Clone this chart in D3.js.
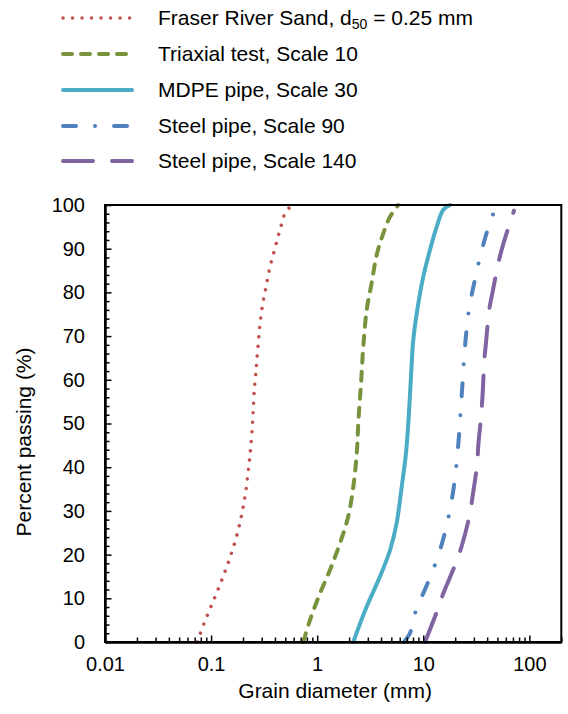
<!DOCTYPE html>
<html>
<head>
<meta charset="utf-8">
<script src="https://cdn.jsdelivr.net/npm/d3@7"></script>
<style>
  body { margin: 0; background: #fff; }
  svg text { font-family: Arial, "Liberation Sans", sans-serif; fill: #000; }
</style>
</head>
<body>
<div id="app"></div>
<script>
// grain size curves, [diameter mm, percent passing]
const seriesNames = [
  "Fraser River Sand",
  "Triaxial test, Scale 10",
  "MDPE pipe, Scale 30",
  "Steel pipe, Scale 90",
  "Steel pipe, Scale 140"
];

const fraser = [
  [0.074, 0], [0.086, 4.3], [0.1005, 8.3], [0.118, 12.4], [0.137, 16.5],
  [0.157, 20.6], [0.177, 24.9], [0.194, 29.1], [0.209, 33.4], [0.226, 40],
  [0.236, 44.4], [0.247, 51], [0.255, 57.5], [0.265, 61.9], [0.269, 64.1],
  [0.279, 68.5], [0.289, 72.8], [0.306, 77.2], [0.331, 81.5], [0.359, 85.8],
  [0.400, 90.1], [0.446, 94.3], [0.505, 98.4], [0.587, 100]
];

const triaxial = [
  [0.74, 0], [0.855, 5], [1.062, 11.1], [1.32, 16.5], [1.64, 22.6],
  [1.96, 28.7], [2.19, 35.5], [2.36, 43.2], [2.45, 50.8], [2.59, 59.2],
  [2.72, 67.6], [2.93, 76], [3.26, 82.1], [3.64, 88.6], [4.20, 93.5],
  [4.86, 97.3], [5.81, 100]
];

const mdpe = [
  [2.19, 0], [2.93, 8.1], [3.91, 15], [4.86, 21], [5.61, 27.2],
  [6.26, 35.5], [6.87, 43.2], [7.26, 50.8], [7.66, 60.7], [8.05, 69.1],
  [8.78, 76], [10.0, 83.6], [11.56, 89.7], [13.37, 95], [15.44, 98.9],
  [17.85, 100]
];

const steel90 = [
  [6.58, 0], [7.49, 2], [8.53, 7.2], [10.67, 12.7], [13.09, 18.1],
  [15.56, 23.9], [17.58, 29.4], [19.38, 35.4], [20.64, 41.1], [21.7, 47.2],
  [22.5, 52.9], [23.4, 59], [24.2, 64.7], [25.4, 70.6], [27.1, 76.5],
  [30.3, 82.3], [34.2, 88], [39.8, 93.8], [47.7, 99.3]
];

const steel140 = [
  [10.4, 0], [13.55, 7.2], [15.44, 11.1], [20.3, 18.1], [23.0, 21.9],
  [27.5, 29.3], [29.2, 33.4], [32.3, 41], [33.0, 45], [34.8, 50.8],
  [36.3, 56.9], [37.6, 64.4], [39.0, 68.4], [41.9, 76.1], [45.1, 80.2],
  [52.0, 87.6], [57.6, 91.6], [71.6, 98.7]
];

const xMajorTicks = [0.01, 0.1, 1, 10, 100];
const xTickLabels = ["0.01", "0.1", "1", "10", "100"];
const yMajorTicks = [0, 10, 20, 30, 40, 50, 60, 70, 80, 90, 100];

const width = 568
    , height = 714
    , plotLeft = 105
    , plotRight = 561.3
    , plotTop = 205
    , plotBottom = 642;

const styles = [
  { color: "#C0504D", width: 3.5, dash: "0.01,9.5" },
  { color: "#77933C", width: 4, dash: "9,9" },
  { color: "#4BACC6", width: 4, dash: null },
  { color: "#4F81BD", width: 4, dash: "13,19,0.01,19" },
  { color: "#8064A2", width: 4, dash: "30,19" }
];
const allSeries = [fraser, triaxial, mdpe, steel90, steel140];

const svg = d3.select("#app").append("svg")
    .attr("width", width)
    .attr("height", height);

const x = d3.scaleLog().domain([0.01, 200]).range([plotLeft, plotRight]);
const y = d3.scaleLinear().domain([0, 100]).range([plotBottom, plotTop]);

// minor ticks
const xMinor = [];
[0.01, 0.1, 1, 10, 100].forEach(base => {
  for (let k = 2; k <= 9; k++) if (base * k <= 200) xMinor.push(base * k);
});
const yMinor = d3.range(0, 101, 2).filter(v => v % 10 !== 0);

// curves
const line = d3.line()
    .x(d => x(d[0]))
    .y(d => y(d[1]))
    .curve(d3.curveCatmullRom.alpha(0.5));

svg.append("g")
    .attr("class", "curves")
  .selectAll("path")
    .data(allSeries)
  .enter().append("path")
    .attr("d", line)
    .attr("fill", "none")
    .attr("stroke", (d, i) => styles[i].color)
    .attr("stroke-width", (d, i) => styles[i].width)
    .attr("stroke-linecap", "round")
    .attr("stroke-dasharray", (d, i) => styles[i].dash);

// plot frame
svg.append("rect")
    .attr("x", plotLeft)
    .attr("y", plotTop)
    .attr("width", plotRight - plotLeft)
    .attr("height", plotBottom - plotTop)
    .attr("fill", "none")
    .attr("stroke", "#000")
    .attr("stroke-width", 2);

const gx = svg.append("g").attr("transform", `translate(0,${plotBottom})`);
gx.append("g")
    .call(d3.axisBottom(x).tickValues(xMinor).tickSizeInner(-4.5).tickSizeOuter(0).tickFormat(""));
gx.append("g")
    .call(d3.axisBottom(x).tickValues(xMajorTicks).tickSizeInner(-6.5).tickSizeOuter(0)
      .tickPadding(15).tickFormat((d, i) => xTickLabels[i]));

const gy = svg.append("g").attr("transform", `translate(${plotLeft},0)`);
gy.append("g")
    .call(d3.axisLeft(y).tickValues(yMinor).tickSizeInner(-4.5).tickSizeOuter(0).tickFormat(""));
gy.append("g")
    .call(d3.axisLeft(y).tickValues(yMajorTicks).tickSizeInner(-6.5).tickSizeOuter(0)
      .tickPadding(20).tickFormat(d3.format("d")));

svg.selectAll(".domain").attr("stroke", "#000").attr("stroke-width", 2);
svg.selectAll(".tick line").attr("stroke", "#000").attr("stroke-width", 1.5);
svg.selectAll(".tick text")
    .style("font-size", "20px")
    .style("font-family", "Arial, 'Liberation Sans', sans-serif");

// axis titles
svg.append("text")
    .attr("x", (plotLeft + plotRight) / 2 + 2)
    .attr("y", 698)
    .attr("text-anchor", "middle")
    .style("font-size", "21px")
    .text("Grain diameter (mm)");

svg.append("text")
    .attr("transform", "translate(31,442) rotate(-90)")
    .attr("text-anchor", "middle")
    .style("font-size", "21px")
    .text("Percent passing (%)");

// legend
const legendRows = [18, 54, 90, 126, 161];
const legend = svg.append("g")
    .attr("class", "legend")
  .selectAll("g")
    .data(seriesNames)
  .enter().append("g")
    .attr("transform", (d, i) => `translate(0,${legendRows[i]})`);

legend.append("line")
    .attr("x1", 63)
    .attr("x2", 132)
    .attr("stroke", (d, i) => styles[i].color)
    .attr("stroke-width", (d, i) => styles[i].width)
    .attr("stroke-linecap", "round")
    .attr("stroke-dasharray", (d, i) => styles[i].dash);

const legendText = legend.append("text")
    .attr("x", 158)
    .attr("dy", "0.35em")
    .style("font-size", "21px");

legendText.filter((d, i) => i !== 0).text(d => d);

const first = legendText.filter((d, i) => i === 0);
first.append("tspan").text("Fraser River Sand, d");
first.append("tspan").attr("baseline-shift", "-25%").style("font-size", "14px").text("50");
first.append("tspan").text(" = 0.25 mm");
</script>
</body>
</html>
